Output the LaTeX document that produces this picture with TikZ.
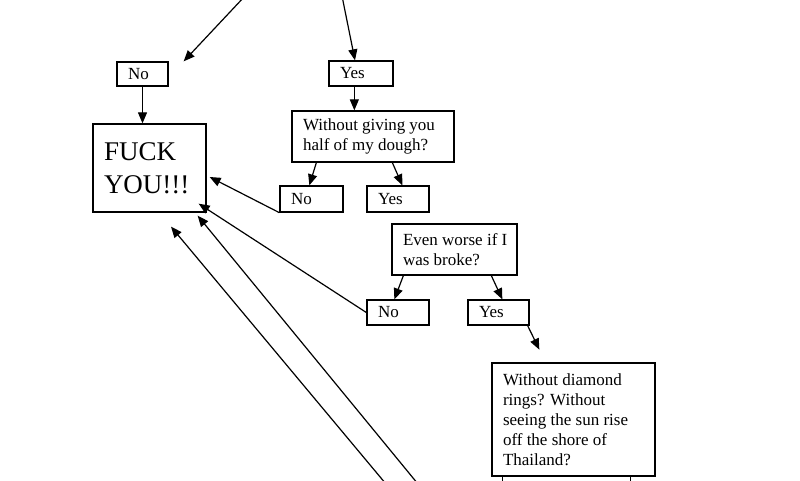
\documentclass[tikz,border=0pt]{standalone}
\usepackage{fontspec}
\setmainfont{Liberation Serif}
\usetikzlibrary{arrows.meta}
\begin{document}
\begin{tikzpicture}[x=1pt,y=-1pt,
  box/.style={draw, line width=1.3pt, rectangle, inner xsep=11pt, inner ysep=0pt,
    align=flush left, anchor=center, font=\fontsize{17}{20}\selectfont},
  arr/.style={line width=1.2pt, -{Triangle[length=11pt,width=9pt]}},
  ln/.style={line width=1.2pt}]
\useasboundingbox[fill=white] (0,0) rectangle (800,480);

\node[box, text width=29pt, minimum height=24pt] (no1) at (142.5,74) {No};
\node[box, text width=42pt, minimum height=25pt] (yes1) at (361,73.5) {Yes};
\node[box, text width=91pt, minimum height=88pt, font=\fontsize{27}{33}\selectfont] (fuck) at (149.5,168) {\mbox{FUCK}\\\mbox{YOU!!!}};
\node[box, text width=140pt, minimum height=51pt] (q1) at (373,136.5) {\mbox{Without\hspace{4pt}giving\hspace{4pt}you}\\\mbox{half of my dough?}};
\node[box, text width=41pt, minimum height=26pt] (no2) at (311.5,199) {No};
\node[box, text width=40pt, minimum height=26pt] (yes2) at (398,199) {Yes};
\node[box, text width=103pt, minimum height=51pt] (q2) at (454.5,249.5) {\mbox{Even worse if I}\\\mbox{was broke?}};
\node[box, text width=40pt, minimum height=25pt] (no3) at (398,312.5) {No};
\node[box, text width=39pt, minimum height=25pt] (yes3) at (498.5,312.5) {Yes};
\node[box, text width=141pt, minimum height=113pt] (q3) at (573.5,419.5) {\mbox{Without diamond}\\\mbox{rings? Without}\\\mbox{seeing the sun rise}\\\mbox{off the shore of}\\\mbox{Thailand?}};

\coordinate (t1) at (245,-4);
\coordinate (t2) at (342,-4);
\coordinate (b1) at (418,484);
\coordinate (b2) at (386,484);

\draw[arr] (t1) -- ([xshift=15pt]no1.north east);
\draw[arr] (t2) -- ([xshift=-6pt]yes1.north);
\draw[arr] (no1.south) -- (no1.south |- fuck.north);
\draw[arr] ([xshift=26pt]yes1.south west) -- ([xshift=63pt]q1.north west);
\draw[arr] ([xshift=25pt]q1.south west) -- ([xshift=30pt]no2.north west);
\draw[arr] ([xshift=101pt]q1.south west) -- ([xshift=36pt]yes2.north west);
\draw[arr] (no2.south west) -- ([xshift=3pt,yshift=-9pt]fuck.east);
\draw[arr] ([xshift=12pt]q2.south west) -- ([xshift=28pt]no3.north west);
\draw[arr] ([xshift=100pt]q2.south west) -- ([xshift=35pt]yes3.north west);
\draw[arr] (no3.west) -- ([xshift=-8pt,yshift=9pt]fuck.south east);
\draw[arr] (b1) -- ([xshift=-9pt,yshift=-3pt]fuck.south east);
\draw[arr] (b2) -- ([xshift=21.5pt,yshift=-14pt]fuck.south);
\draw[arr] ([xshift=-2pt]yes3.south east) -- ([xshift=72pt,yshift=-24pt]yes3.south west);
\draw[ln] ([xshift=11pt]q3.south west) -- ([xshift=11pt,yshift=-10pt]q3.south west);
\draw[ln] ([xshift=-25pt]q3.south east) -- ([xshift=-25pt,yshift=-10pt]q3.south east);
\end{tikzpicture}
\end{document}
